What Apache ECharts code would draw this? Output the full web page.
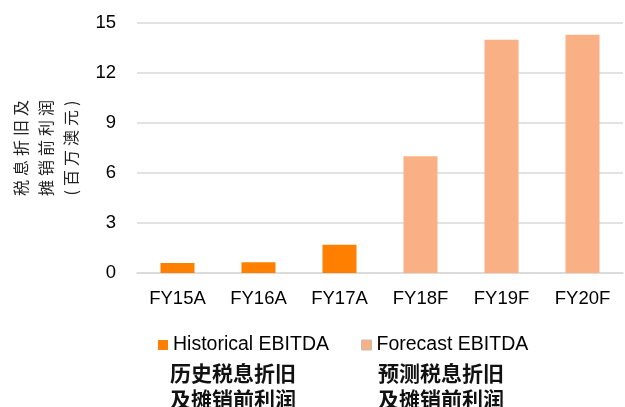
<!DOCTYPE html>
<html>
	<head>
		<meta charset="utf-8" />
		<title>EBITDA</title>
		<style>
			html, body { margin: 0; padding: 0; background: #fff; }
			#chart-1 { width: 625px; height: 407px; }
		</style>
	</head>
	<body>
		<div id="chart-1"></div>
		<script type="text/javascript" src="https://cdn.jsdelivr.net/npm/echarts/dist/echarts.min.js"></script>
		<script type="text/javascript">
			// data (百万澳元)
			var years = ['FY15A', 'FY16A', 'FY17A', 'FY18F', 'FY19F', 'FY20F'];
			var historical = [0.6, 0.65, 1.7, '-', '-', '-'];
			var forecast = ['-', '-', '-', 7.0, 14.0, 14.3];
			var yTicks = { min: 0, max: 15, interval: 3 };
			var yName = '税\u2005息\u2005折\u2005旧\u2005及\n摊\u2005销\u2005前\u2005利\u2005润\n(\u2005百\u2005万\u2005澳\u2005元\u2005)';
			var cnNotes = ['历史税息折旧\n及摊销前利润', '预测税息折旧\n及摊销前利润'];

			var myChart = echarts.init(document.getElementById('chart-1'));

			var option = {
				animation: false,
				textStyle: { fontFamily: 'Liberation Sans, Arial, sans-serif' },
				grid: { left: 133, right: 2, top: 23, bottom: 134 },
				legend: {
					left: 153,
					top: 330,
					icon: 'rect',
					itemWidth: 10,
					itemHeight: 10,
					itemGap: 32,
					textStyle: { fontSize: 19.5, color: '#000' },
					data: [
						{ name: 'Historical EBITDA' },
						{ name: 'Forecast EBITDA', itemStyle: { borderColor: '#bfbfbf', borderWidth: 1 } }
					]
				},
				xAxis: {
					type: 'category',
					data: years,
					axisLine: { lineStyle: { color: '#d9d9d9', width: 1.5 } },
					axisTick: { show: false },
					axisLabel: { fontSize: 18.5, color: '#000', margin: 16 }
				},
				yAxis: {
					type: 'value',
					min: yTicks.min,
					max: yTicks.max,
					interval: yTicks.interval,
					name: yName,
					nameLocation: 'middle',
					nameGap: 54,
					nameTextStyle: {
						fontFamily: 'Noto Sans CJK SC',
						fontSize: 16,
						lineHeight: 25,
						color: '#222'
					},
					axisLine: { show: false },
					axisTick: { show: false },
					axisLabel: { fontSize: 18.5, color: '#000', margin: 21 },
					splitLine: { lineStyle: { color: '#d9d9d9', width: 1.5 } }
				},
				series: [
					{
						name: 'Historical EBITDA',
						type: 'bar',
						stack: 'all',
						barWidth: 34,
						itemStyle: { color: '#ff8000' },
						data: historical
					},
					{
						name: 'Forecast EBITDA',
						type: 'bar',
						stack: 'all',
						barWidth: 34,
						itemStyle: { color: '#f8b084' },
						data: forecast
					}
				],
				graphic: [
					{
						type: 'text',
						left: 170,
						top: 360,
						style: {
							text: cnNotes[0],
							fontFamily: 'Noto Sans CJK SC',
							fontSize: 21,
							fontWeight: 'bold',
							lineHeight: 26,
							fill: '#111'
						}
					},
					{
						type: 'text',
						left: 378,
						top: 360,
						style: {
							text: cnNotes[1],
							fontFamily: 'Noto Sans CJK SC',
							fontSize: 21,
							fontWeight: 'bold',
							lineHeight: 26,
							fill: '#111'
						}
					}
				]
			};
			myChart.setOption(option);
		</script>
	</body>
</html>
